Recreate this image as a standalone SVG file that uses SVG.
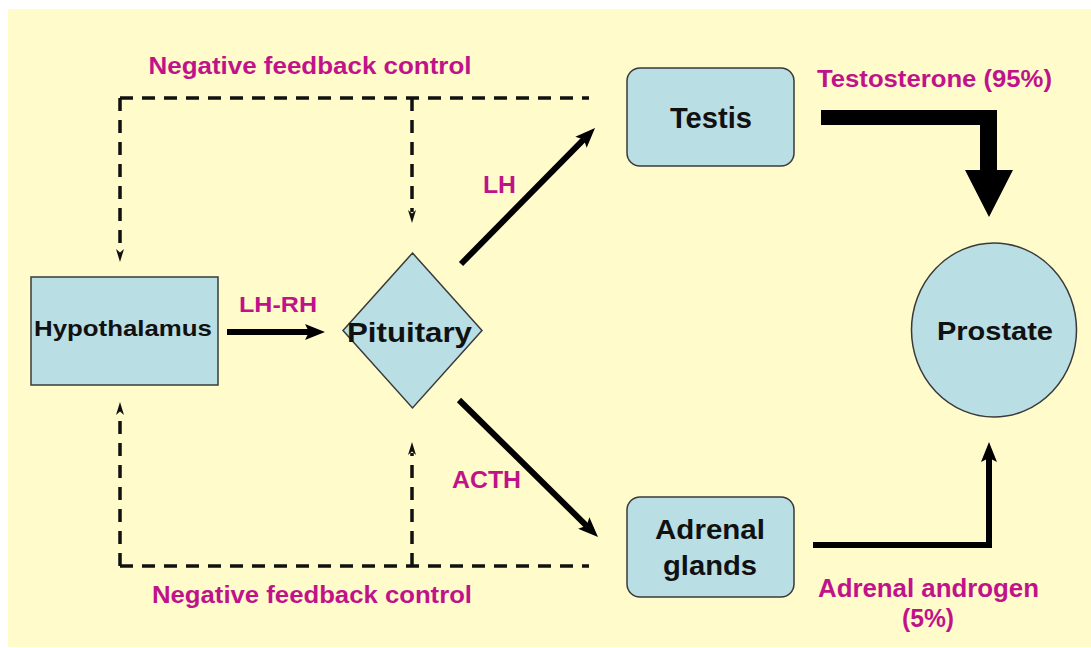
<svg xmlns="http://www.w3.org/2000/svg" width="1091" height="648" viewBox="0 0 1091 648">
<style>
  .bg { fill: #FFFBCB; }
  .node { fill: #B9DEE4; stroke: #3A3A3A; stroke-width: 1.5; }
  .lbl { font-family: "Liberation Sans", Arial, sans-serif; font-weight: bold; fill: #C0138A; text-anchor: middle; }
  .ntxt { font-family: "Liberation Sans", Arial, sans-serif; font-weight: bold; fill: #111111; text-anchor: middle; }
  .dash { fill: none; stroke: #111111; stroke-width: 3.5; stroke-dasharray: 13 9; }
  .solid { fill: none; stroke: #000000; stroke-width: 6; }
  .thick { fill: #000000; stroke: none; }
</style>
<defs>
  <marker id="dashHead" markerUnits="userSpaceOnUse" viewBox="0 0 13 8" markerWidth="13" markerHeight="8" refX="2" refY="4" orient="auto">
    <path d="M0,0 L13,4 L0,8 L3.5,4 Z" fill="#111111"/>
  </marker>
  <marker id="solidHead" markerUnits="userSpaceOnUse" viewBox="0 0 20 16" markerWidth="20" markerHeight="16" refX="4" refY="8" orient="auto">
    <path d="M0,0 L20,8 L0,16 L4,8 Z" fill="#000000"/>
  </marker>
</defs>
<rect width="1091" height="648" fill="#FFFFFF"/>
<rect class="bg" x="8" y="9" width="1083" height="638"/>

<g id="connectors">
  <!-- top negative feedback -->
  <path class="dash" d="M120,98 H589"/>
  <path class="dash" d="M120,98 V251" marker-end="url(#dashHead)"/>
  <path class="dash" d="M412,98 V212" marker-end="url(#dashHead)"/>
  <!-- bottom negative feedback -->
  <path class="dash" d="M120,566 H589"/>
  <path class="dash" d="M120,566 V413" marker-end="url(#dashHead)"/>
  <path class="dash" d="M412,566 V453" marker-end="url(#dashHead)"/>
  <!-- LH-RH -->
  <path class="solid" d="M227,332 H309" marker-end="url(#solidHead)"/>
  <!-- LH -->
  <path class="solid" d="M461,264 L583.8,139.4" marker-end="url(#solidHead)"/>
  <!-- ACTH -->
  <path class="solid" d="M459,400 L586.6,525.8" marker-end="url(#solidHead)"/>
  <!-- Adrenal androgen -->
  <path class="solid" d="M813,545 H989 V458" stroke-width="7" marker-end="url(#solidHead)"/>
  <!-- Testosterone thick arrow -->
  <path class="thick" d="M821,110 H997 V170 H1013 L989,217 L965,170 H980 V125 H821 Z"/>
</g>

<g id="labels">
  <text class="lbl" x="310" y="74" font-size="24" textLength="323" lengthAdjust="spacingAndGlyphs">Negative feedback control</text>
  <text class="lbl" x="312" y="603" font-size="24" textLength="320" lengthAdjust="spacingAndGlyphs">Negative feedback control</text>
  <text class="lbl" x="278" y="312" font-size="22" textLength="78" lengthAdjust="spacingAndGlyphs">LH-RH</text>
  <text class="lbl" x="499.5" y="193" font-size="24" textLength="33" lengthAdjust="spacingAndGlyphs">LH</text>
  <text class="lbl" x="486.5" y="488" font-size="24" textLength="69" lengthAdjust="spacingAndGlyphs">ACTH</text>
  <text class="lbl" x="934.5" y="87" font-size="23" textLength="235" lengthAdjust="spacingAndGlyphs">Testosterone (95%)</text>
  <text class="lbl" x="928.5" y="597" font-size="25" textLength="221" lengthAdjust="spacingAndGlyphs">Adrenal androgen</text>
  <text class="lbl" x="928" y="627" font-size="25" textLength="52" lengthAdjust="spacingAndGlyphs">(5%)</text>
</g>

<g id="hypothalamus">
  <rect class="node" x="31" y="277" width="187" height="108"/>
  <text class="ntxt" x="123" y="336" font-size="22" textLength="178" lengthAdjust="spacingAndGlyphs">Hypothalamus</text>
</g>

<g id="pituitary">
  <polygon class="node" points="412.5,253 482,330.5 412.5,408 343,330.5"/>
  <text class="ntxt" x="409.5" y="342" font-size="28" textLength="125" lengthAdjust="spacingAndGlyphs">Pituitary</text>
</g>

<g id="testis">
  <rect class="node" x="627" y="68" width="167" height="98" rx="13" ry="13"/>
  <text class="ntxt" x="711" y="128" font-size="29" textLength="82" lengthAdjust="spacingAndGlyphs">Testis</text>
</g>

<g id="adrenal">
  <rect class="node" x="627" y="497" width="167" height="100" rx="13" ry="13"/>
  <text class="ntxt" x="710" y="539" font-size="28" textLength="110" lengthAdjust="spacingAndGlyphs">Adrenal</text>
  <text class="ntxt" x="710" y="575" font-size="28" textLength="94" lengthAdjust="spacingAndGlyphs">glands</text>
</g>

<g id="prostate">
  <ellipse class="node" cx="994" cy="330" rx="82.5" ry="87"/>
  <text class="ntxt" x="995" y="340" font-size="26" textLength="116" lengthAdjust="spacingAndGlyphs">Prostate</text>
</g>
</svg>
